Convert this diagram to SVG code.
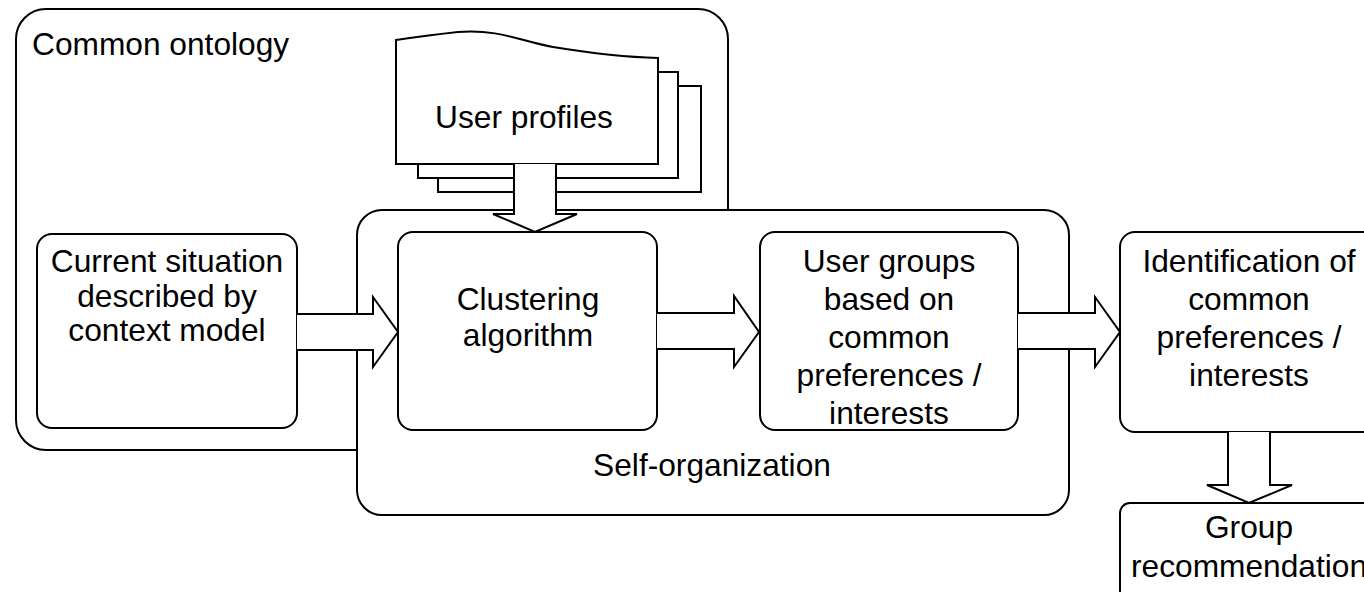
<svg xmlns="http://www.w3.org/2000/svg" width="1364" height="592" viewBox="0 0 1364 592">
<style>
.box{fill:#fff;stroke:#000;stroke-width:2}
.arr{fill:#fff;stroke:#000;stroke-width:2;stroke-linejoin:miter}
text{font-family:"Liberation Sans",Arial,sans-serif;font-size:31.7px;fill:#000}
.c{text-anchor:middle}
</style>
<rect width="1364" height="592" fill="#fff"/>
<g id="common-ontology">
<rect class="box" x="16" y="9" width="712" height="441" rx="30" ry="30"/>
<text x="32" y="55">Common ontology</text>
</g>
<g id="user-profiles">
<rect class="box" x="438" y="86" width="263" height="106"/>
<rect class="box" x="418" y="72" width="260" height="106"/>
<path class="box" d="M396,164 V40 Q430,35 458,32 C500,29 520,41 553,47 C590,53 620,57 658,58 V164 Z"/>
<text class="c" x="524" y="128">User profiles</text>
</g>
<g id="self-organization">
<rect class="box" x="357" y="210" width="712" height="305" rx="25" ry="25"/>
<text class="c" x="712" y="476">Self-organization</text>
</g>
<g id="current-situation">
<rect class="box" x="37" y="234" width="260" height="194" rx="15" ry="15"/>
<text class="c" x="167" y="272">Current situation</text>
<text class="c" x="167" y="306.5">described by</text>
<text class="c" x="167" y="341">context model</text>
</g>
<g id="clustering">
<rect class="box" x="398" y="232" width="259" height="198" rx="15" ry="15"/>
<text class="c" x="528" y="310">Clustering</text>
<text class="c" x="528" y="346">algorithm</text>
</g>
<g id="user-groups">
<rect class="box" x="760" y="232" width="258" height="198" rx="15" ry="15"/>
<text class="c" x="889" y="272">User groups</text>
<text class="c" x="889" y="309.5">based on</text>
<text class="c" x="889" y="347.5">common</text>
<text class="c" x="889" y="386">preferences /</text>
<text class="c" x="889" y="424">interests</text>
</g>
<g id="identification">
<rect class="box" x="1120" y="232" width="258" height="200" rx="15" ry="15"/>
<text class="c" x="1249" y="272">Identification of</text>
<text class="c" x="1249" y="310">common</text>
<text class="c" x="1249" y="348">preferences /</text>
<text class="c" x="1249" y="386">interests</text>
</g>
<g id="group-recommendation">
<rect class="box" x="1120" y="503" width="258" height="120" rx="10" ry="10"/>
<text class="c" x="1249" y="538">Group</text>
<text class="c" x="1249" y="577">recommendation</text>
</g>
<g id="connectors">
<path class="arr" d="M514,164 V214 H493 L535,232 L577,214 H556 V164"/>
<path class="arr" d="M297,314 H373 V297 L398,332 L373,367 V350 H297"/>
<path class="arr" d="M657,313 H734 V296 L759,332 L734,367 V349 H657"/>
<path class="arr" d="M1018,313 H1095 V297 L1120,332 L1095,367 V349 H1018"/>
<path class="arr" d="M1228,432 V485 H1207 L1249,503 L1292,485 H1270 V432"/>
</g>
</svg>
